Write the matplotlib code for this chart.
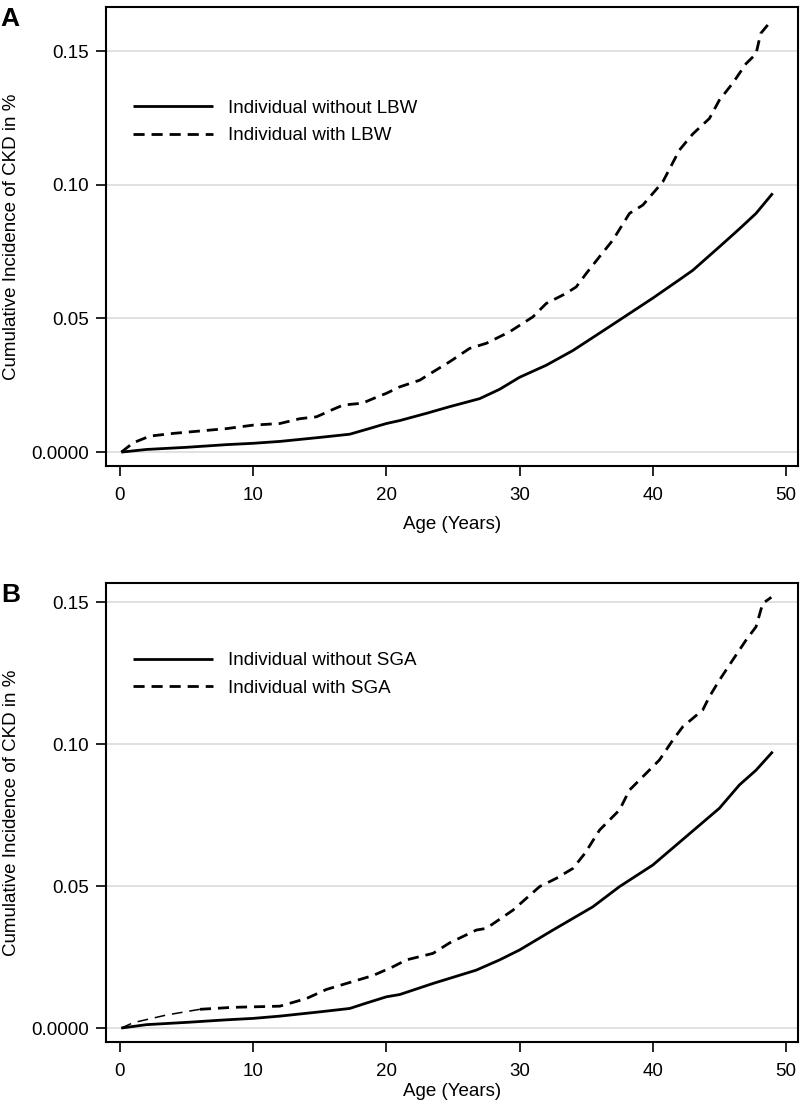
import numpy as np
import matplotlib
matplotlib.use("Agg")
import matplotlib.pyplot as plt

plt.rcParams['font.family'] = ['Liberation Sans', 'DejaVu Sans']

# panel A: low birth weight
age_a_without = [0.1, 2, 5, 8, 10, 12, 15, 17.25, 18.5, 20, 21, 23, 24.75, 27, 28.5,
                 30, 32, 34, 36, 37.5, 40, 42, 43, 45, 46.5, 47.75, 49]
cki_a_without = [0.0, 0.001, 0.0018, 0.0028, 0.0033, 0.0040, 0.0055, 0.0067, 0.0085, 0.0107,
                 0.0118, 0.0145, 0.0170, 0.0200, 0.0235, 0.0280, 0.0325, 0.0380, 0.0445,
                 0.0494, 0.0576, 0.0645, 0.0680, 0.0768, 0.0835, 0.0893, 0.0968]
age_a_with = [0.1, 1, 2.25, 4, 6, 8, 10, 12, 13.5, 14.75, 16, 16.75, 18.2, 19, 20, 21,
              22.5, 23.5, 24.75, 26.25, 27.5, 29.25, 31, 32, 33.5, 34.25, 35, 36, 37,
              38.25, 39.25, 40.75, 42, 43, 44.25, 45, 46, 47, 47.75, 48.1, 48.9]
cki_a_with = [0.0, 0.0035, 0.006, 0.007, 0.0079, 0.0088, 0.0101, 0.0107, 0.0125, 0.0132,
              0.0160, 0.0176, 0.0183, 0.0200, 0.0220, 0.0244, 0.0269, 0.0300, 0.0338,
              0.0388, 0.0407, 0.0450, 0.0506, 0.0556, 0.0594, 0.0618, 0.0668, 0.0731,
              0.0793, 0.0893, 0.0924, 0.1011, 0.1130, 0.1190, 0.1248, 0.1317, 0.1380,
              0.1453, 0.1490, 0.1566, 0.1614]

# panel B: small for gestational age
age_b_without = [0.1, 2, 5, 8, 10, 12, 15, 17.25, 18.5, 20, 21, 23.5, 26.75, 28.5, 30,
                 32.5, 35.5, 37.5, 40, 42.5, 45, 46.5, 47.75, 49]
cki_b_without = [0.0, 0.0012, 0.0020, 0.0029, 0.0034, 0.0042, 0.0057, 0.0069, 0.0088,
                 0.0110, 0.0118, 0.0157, 0.0204, 0.0240, 0.0275, 0.0345, 0.0427, 0.0498,
                 0.0574, 0.0674, 0.0774, 0.0856, 0.0908, 0.0973]
age_b_with = [0.1, 1, 3.5, 6, 8.5, 12, 14, 15.5, 17, 19, 20.5, 21.5, 23.5, 24.75, 26.75,
              27.5, 29.5, 31.5, 32.75, 34, 34.9, 36, 37.5, 38.25, 40.5, 41.5, 42.25,
              43.75, 44.25, 45, 46, 47, 47.75, 48.25, 48.9]
cki_b_with = [0.0, 0.0019, 0.0046, 0.0066, 0.0073, 0.0077, 0.0104, 0.0136, 0.0157,
              0.0185, 0.0216, 0.0240, 0.0263, 0.0300, 0.0345, 0.0351, 0.0415, 0.0498,
              0.0527, 0.0562, 0.0615, 0.0697, 0.0768, 0.0838, 0.0944, 0.1014, 0.1061,
              0.1120, 0.1167, 0.1225, 0.1296, 0.1366, 0.1413, 0.1495, 0.1517]

yticks = [0.0, 0.05, 0.10, 0.15]
ytick_labels = ['0.0000', '0.05', '0.10', '0.15']
xticks = [0, 10, 20, 30, 40, 50]

fig = plt.figure(figsize=(8, 11.08), dpi=100)
ax_a = fig.add_axes([0.1325, 0.5794, 0.865, 0.4143])
ax_b = fig.add_axes([0.1325, 0.0596, 0.865, 0.4142])

panels = [
    (ax_a, 'A', age_a_without, cki_a_without, age_a_with, cki_a_with,
     'Individual without LBW', 'Individual with LBW', (-0.0052, 0.1665), 0.835, None, 9),
    (ax_b, 'B', age_b_without, cki_b_without, age_b_with, cki_b_with,
     'Individual without SGA', 'Individual with SGA', (-0.0049, 0.1567), 0.886, 6, 2),
]

for ax, tag, x1, y1, x2, y2, lab1, lab2, ylim, leg_y, thin_until, xpad in panels:
    for v in yticks:
        ax.axhline(v, color='#dcdcdc', lw=1.2, zorder=0)
    ax.plot(x1, y1, color='black', lw=2.0, label=lab1, solid_capstyle='butt')
    if thin_until is None:
        ax.plot(x2, y2, color='black', lw=2.0, dashes=(4, 2.5), label=lab2)
    else:
        # the early part of this curve is drawn thinner in the original
        k = x2.index(thin_until) + 1
        ax.plot(x2[:k], y2[:k], color='black', lw=1.1, dashes=(7, 4.5))
        ax.plot(x2[k - 1:], y2[k - 1:], color='black', lw=2.0, dashes=(4, 2.5))
        ax.plot([], [], color='black', lw=2.0, dashes=(4, 2.5), label=lab2)
    ax.set_xlim(-1.05, 50.9)
    ax.set_ylim(*ylim)
    ax.set_xticks(xticks)
    ax.set_yticks(yticks)
    ax.set_yticklabels(ytick_labels)
    ax.tick_params(direction='out', length=7, width=1.2, labelsize=13.5, pad=5)
    ax.tick_params(axis='x', pad=8)
    for s in ax.spines.values():
        s.set_linewidth(1.5)
    ax.set_xlabel('Age (Years)', fontsize=13.5, labelpad=xpad)
    ax.set_ylabel('Cumulative Incidence of CKD in %', fontsize=13.5, labelpad=8)
    ax.legend(loc='upper left', bbox_to_anchor=(0.015, leg_y), frameon=False,
              fontsize=13.5, handlelength=4.27, handletextpad=0.8, labelspacing=0.55)
    ax.text(-0.152, 1.0, tag, transform=ax.transAxes, fontsize=19, fontweight='bold',
            ha='left', va='top')

fig.savefig('out.png', dpi=100)
